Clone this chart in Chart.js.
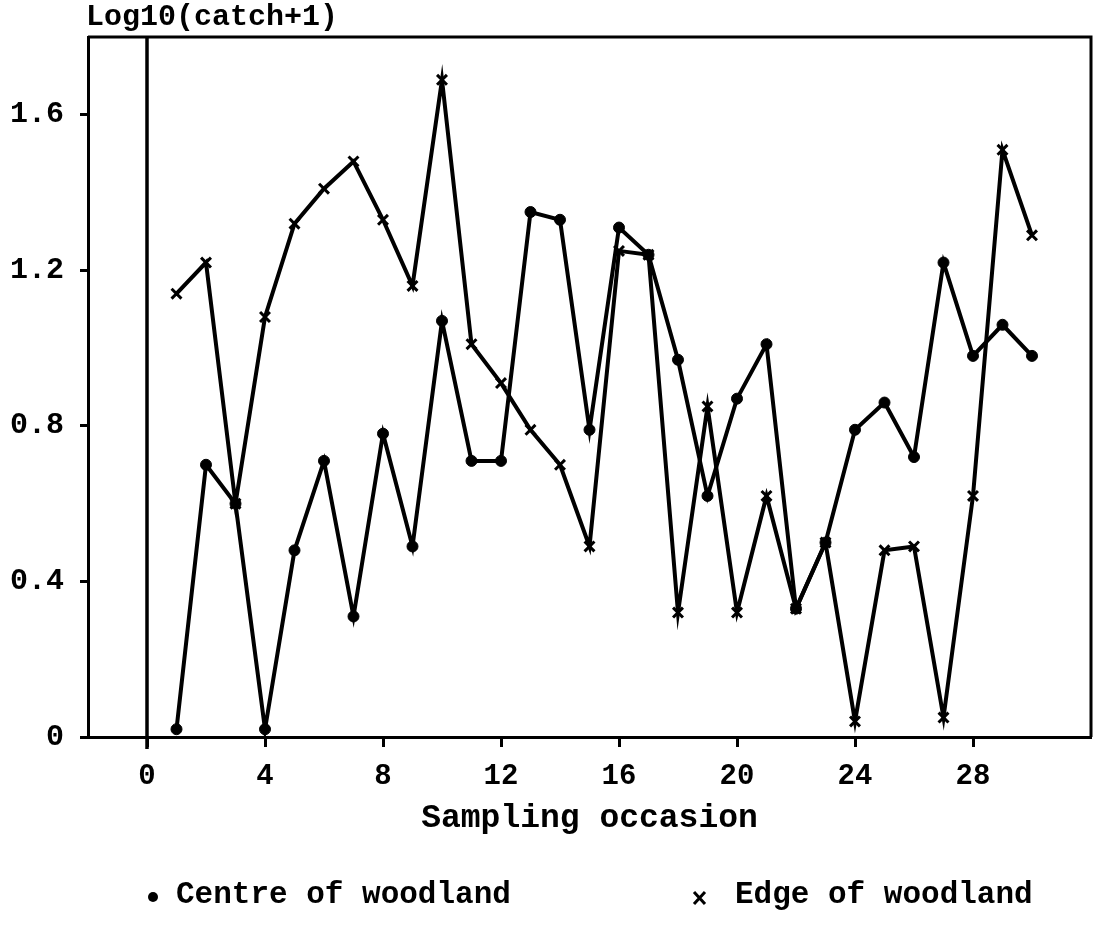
<!DOCTYPE html>
<html>
<head>
<meta charset="utf-8">
<script src="https://cdn.jsdelivr.net/npm/chart.js@4.4.0/dist/chart.umd.min.js"></script>
<style>
    html, body { margin: 0; padding: 0; background: #fff; }
    #wrap { width: 1093px; height: 929px; }
</style>
</head>
<body>
<div id="wrap"><canvas id="catchChart" width="1093" height="929"></canvas></div>
<script>
// Sampling occasions and log10(catch+1) values
var occasions = [1, 2, 3, 4, 5, 6, 7, 8, 9, 10, 11, 12, 13, 14, 15, 16, 17, 18, 19, 20, 21, 22, 23, 24, 25, 26, 27, 28, 29, 30];
var centreValues = [0.02, 0.70, 0.60, 0.02, 0.48, 0.71, 0.31, 0.78, 0.49, 1.07, 0.71, 0.71, 1.35, 1.33, 0.79, 1.31, 1.24, 0.97, 0.62, 0.87, 1.01, 0.33, 0.50, 0.79, 0.86, 0.72, 1.22, 0.98, 1.06, 0.98];
var edgeValues = [1.14, 1.22, 0.60, 1.08, 1.32, 1.41, 1.48, 1.33, 1.16, 1.69, 1.01, 0.91, 0.79, 0.70, 0.49, 1.25, 1.24, 0.32, 0.85, 0.32, 0.62, 0.33, 0.50, 0.04, 0.48, 0.49, 0.05, 0.62, 1.51, 1.29];
var xTickValues = [0, 4, 8, 12, 16, 20, 24, 28];
var yTickValues = [0, 0.4, 0.8, 1.2, 1.6];
var yTickLabels = ['0', '0.4', '0.8', '1.2', '1.6'];
var seriesLabels = ['Centre of woodland', 'Edge of woodland'];
var yTitle = 'Log10(catch+1)';
var xTitle = 'Sampling occasion';

var FONT = "'Liberation Mono', 'Courier New', monospace";

function toPoints(values) {
    return occasions.map(function(o, i) { return { x: o, y: values[i] }; });
}

// box top/right edges, the vertical line at zero, the y title and the legend
var framePlugin = {
    id: 'frame',
    afterDraw: function(chart) {
        var ctx = chart.ctx;
        var area = chart.chartArea;
        var x0 = chart.scales.x.getPixelForValue(0);
        ctx.save();
        ctx.strokeStyle = '#000';
        ctx.lineWidth = 3;
        ctx.beginPath();
        ctx.moveTo(area.left, area.top);
        ctx.lineTo(area.right, area.top);
        ctx.lineTo(area.right, area.bottom);
        ctx.stroke();
        ctx.lineWidth = 3.5;
        ctx.beginPath();
        ctx.moveTo(x0, area.top);
        ctx.lineTo(x0, area.bottom + 12);
        ctx.stroke();

        ctx.fillStyle = '#000';
        ctx.font = 'bold 30px ' + FONT;
        ctx.textAlign = 'left';
        ctx.textBaseline = 'middle';
        ctx.fillText(yTitle, 86, 17);

        // legend
        var ly = 895;
        ctx.font = 'bold 31px ' + FONT;
        ctx.beginPath();
        ctx.arc(153, ly + 2, 5, 0, Math.PI * 2);
        ctx.fill();
        ctx.fillText(seriesLabels[0], 176, ly);
        ctx.lineWidth = 3;
        ctx.beginPath();
        ctx.moveTo(694, ly - 3);
        ctx.lineTo(705, ly + 9);
        ctx.moveTo(705, ly - 3);
        ctx.lineTo(694, ly + 9);
        ctx.stroke();
        ctx.fillText(seriesLabels[1], 735, ly);
        ctx.restore();
    }
};

var chartCanvas = document.getElementById('catchChart').getContext('2d');
var catchChart = new Chart(chartCanvas, {
    type: 'scatter',
    data: {
        datasets: [{
            label: seriesLabels[0],
            data: toPoints(centreValues),
            showLine: true,
            borderColor: '#000',
            backgroundColor: '#000',
            borderWidth: 4,
            pointStyle: 'circle',
            pointRadius: 5.5,
            pointBackgroundColor: '#000',
            pointBorderColor: '#000',
            pointBorderWidth: 1
        }, {
            label: seriesLabels[1],
            data: toPoints(edgeValues),
            showLine: true,
            borderColor: '#000',
            backgroundColor: '#000',
            borderWidth: 4,
            pointStyle: 'crossRot',
            pointRadius: 7,
            pointBorderColor: '#000',
            pointBorderWidth: 3
        }]
    },
    options: {
        responsive: false,
        animation: false,
        layout: {
            autoPadding: false,
            padding: { top: 37, left: 0, right: 2, bottom: 92 }
        },
        scales: {
            x: {
                type: 'linear',
                min: -2,
                max: 32,
                afterBuildTicks: function(scale) {
                    scale.ticks = xTickValues.map(function(v) { return { value: v }; });
                },
                afterFit: function(scale) {
                    scale.height = 100;
                    scale.paddingLeft = 0;
                    scale.paddingRight = 0;
                },
                grid: {
                    drawOnChartArea: false,
                    drawTicks: true,
                    tickLength: 10,
                    tickWidth: 3,
                    tickColor: '#000'
                },
                border: { display: true, color: '#000', width: 3 },
                ticks: {
                    color: '#000',
                    padding: 12,
                    maxRotation: 0,
                    font: { family: FONT, size: 29, weight: 'bold' }
                },
                title: {
                    display: true,
                    text: xTitle,
                    color: '#000',
                    padding: { top: 0, bottom: -1 },
                    font: { family: FONT, size: 33, weight: 'bold' }
                }
            },
            y: {
                type: 'linear',
                min: 0,
                max: 1.8,
                afterBuildTicks: function(scale) {
                    scale.ticks = yTickValues.map(function(v) { return { value: v }; });
                },
                afterFit: function(scale) {
                    scale.width = 88;
                    scale.paddingTop = 0;
                    scale.paddingBottom = 0;
                },
                grid: {
                    drawOnChartArea: false,
                    drawTicks: true,
                    tickLength: 8,
                    tickWidth: 3,
                    tickColor: '#000'
                },
                border: { display: true, color: '#000', width: 3 },
                ticks: {
                    color: '#000',
                    padding: 16,
                    font: { family: FONT, size: 30, weight: 'bold' },
                    callback: function(value, index) { return yTickLabels[index]; }
                }
            }
        },
        plugins: {
            legend: { display: false },
            tooltip: { enabled: false }
        }
    },
    plugins: [framePlugin]
});
</script>
</body>
</html>
